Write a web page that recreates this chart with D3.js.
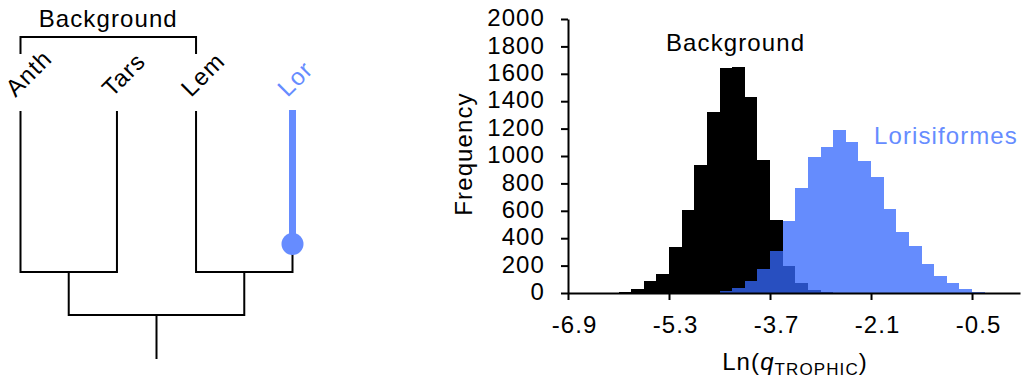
<!DOCTYPE html>
<html>
<head>
<meta charset="utf-8">
<script src="https://cdn.jsdelivr.net/npm/d3@7"></script>
<style>
  body { margin: 0; background: #fff; }
  svg text { font-family: "Liberation Sans", Arial, sans-serif; font-size: 24px; letter-spacing: 1.1px; }
</style>
</head>
<body>
<svg id="chart" width="1021" height="386"></svg>
<script>
// histogram bins: left edge of each 0.2-wide bin and its frequency
const binWidth = 0.2;
const backgroundBins = [-6.3, -6.1, -5.9, -5.7, -5.5, -5.3, -5.1, -4.9, -4.7, -4.5, -4.3, -4.1, -3.9, -3.7, -3.5, -3.3, -3.1, -2.9];
const backgroundCounts = [2, 6, 27, 85, 142, 334, 607, 936, 1319, 1641, 1649, 1434, 973, 532, 195, 73, 25, 5];
const lorisBins = [-4.5, -4.3, -4.1, -3.9, -3.7, -3.5, -3.3, -3.1, -2.9, -2.7, -2.5, -2.3, -2.1, -1.9, -1.7, -1.5, -1.3, -1.1, -0.9, -0.7, -0.5];
const lorisCounts = [15, 34, 88, 173, 307, 524, 764, 995, 1063, 1190, 1102, 966, 844, 610, 444, 342, 215, 127, 76, 29, 10];

const xTicks = [-6.9, -5.3, -3.7, -2.1, -0.5];
const yTicks = [0, 200, 400, 600, 800, 1000, 1200, 1400, 1600, 1800, 2000];

// phylogeny: ((Anth,Tars),(Lem,Lor)), Lor is the foreground branch
const cladeA = ['Anth', 'Tars'];
const cladeB = ['Lem', 'Lor'];
const foreground = 'Lor';
const bracketTaxa = ['Anth', 'Lem'];

const blue = '#668cff';
const svg = d3.select('#chart');

// ---------- tree ----------
const root = d3.hierarchy({
  children: [
    { children: cladeA.map(name => ({ name })) },
    { children: cladeB.map(name => ({ name })) }
  ]
});

d3.cluster()
  .size([1, 1])
  .separation((a, b) => a.parent === b.parent ? 1 : 0.82)(root);

// stretch the leaves across the tree panel
const leafX = d3.scaleLinear()
  .domain(d3.extent(root.leaves(), d => d.x))
  .range([20.5, 292.5]);

const tipTop = 111;
const nodeY = d3.scaleLinear().domain([1, 2]).range([272, 315]);
const tx = d => leafX(d.x);
const ty = d => d.height === 0 ? tipTop : nodeY(d.height);

const tree = svg.append('g')
  .attr('fill', 'none')
  .attr('stroke', '#000')
  .attr('stroke-width', 2);

root.descendants().filter(d => d.children).forEach(p => {
  const [a, b] = p.children;
  const bTop = b.data.name === foreground ? 244 : ty(b);
  tree.append('path')
    .attr('d', `M${tx(a)},${ty(a)}V${ty(p)}H${tx(b)}V${bTop}`);
});

// root stub
tree.append('path').attr('d', `M${tx(root)},${ty(root)}V359`);

// foreground branch with shift marker
const lor = root.leaves().find(d => d.data.name === foreground);
svg.append('line')
  .attr('x1', tx(lor)).attr('x2', tx(lor))
  .attr('y1', tipTop - 1).attr('y2', 244)
  .attr('stroke', blue).attr('stroke-width', 7);
svg.append('circle')
  .attr('cx', tx(lor)).attr('cy', 244).attr('r', 11)
  .attr('fill', blue);

// tip labels
svg.append('g').selectAll('text')
  .data(root.leaves())
  .join('text')
  .attr('transform', d => `translate(${tx(d) - 5},98) rotate(-45)`)
  .attr('fill', d => d.data.name === foreground ? blue : '#000')
  .text(d => d.data.name);

// background bracket
const bl = root.leaves().filter(d => bracketTaxa.includes(d.data.name));
tree.append('path')
  .attr('d', `M${tx(bl[0])},54V37H${tx(bl[1])}V54`);
svg.append('text')
  .attr('x', (tx(bl[0]) + tx(bl[1])) / 2)
  .attr('y', 27)
  .attr('text-anchor', 'middle')
  .text('Background');

// ---------- histogram ----------
const x = d3.scaleLinear().domain([-6.9, 0.26]).range([568, 1020]);
const y = d3.scaleLinear().domain([0, 2000]).range([293, 19]);

const bars = (bins, counts) => bins.map((b, i) => ({ x0: b, x1: b + binWidth, n: counts[i] }));

function drawHist(g, data, color) {
  g.selectAll('rect')
    .data(data)
    .join('rect')
    .attr('x', d => x(d.x0))
    .attr('width', d => x(d.x1) - x(d.x0))
    .attr('y', d => y(d.n))
    .attr('height', d => y(0) - y(d.n))
    .attr('fill', color)
    .attr('shape-rendering', 'crispEdges');
}

drawHist(svg.append('g'), bars(backgroundBins, backgroundCounts), '#000');
drawHist(svg.append('g').attr('opacity', 0.76), bars(lorisBins, lorisCounts), 'rgb(53,105,253)');

const xAxis = svg.append('g')
  .attr('transform', `translate(0,${y(0)})`)
  .call(d3.axisBottom(x).tickValues(xTicks).tickFormat(d => d.toFixed(1))
    .tickSize(7).tickSizeOuter(0).tickPadding(16));

const yAxis = svg.append('g')
  .attr('transform', `translate(${x(-6.9)},0)`)
  .call(d3.axisLeft(y).tickValues(yTicks).tickFormat(d => String(d))
    .tickSize(7).tickSizeOuter(0).tickPadding(16));

[xAxis, yAxis].forEach(g => {
  g.attr('font-size', null).attr('font-family', null);
  g.selectAll('path, line').attr('stroke', '#000').attr('stroke-width', 2);
  g.selectAll('text').attr('fill', '#000');
});
xAxis.selectAll('text').attr('dx', 6);
yAxis.selectAll('text').attr('dy', '0.28em');

svg.append('text')
  .attr('transform', 'translate(472,154) rotate(-90)')
  .attr('text-anchor', 'middle')
  .text('Frequency');

const xl = svg.append('text')
  .attr('x', 795).attr('y', 370)
  .attr('text-anchor', 'middle');
xl.append('tspan').text('Ln(');
xl.append('tspan').attr('font-style', 'italic').text('q');
xl.append('tspan').attr('font-size', '17px').attr('dy', 5).text('TROPHIC');
xl.append('tspan').attr('dy', -5).text(')');

svg.append('text').attr('x', 666).attr('y', 51).text('Background');
svg.append('text').attr('x', 874).attr('y', 144).attr('fill', blue).text('Lorisiformes');
</script>
</body>
</html>
